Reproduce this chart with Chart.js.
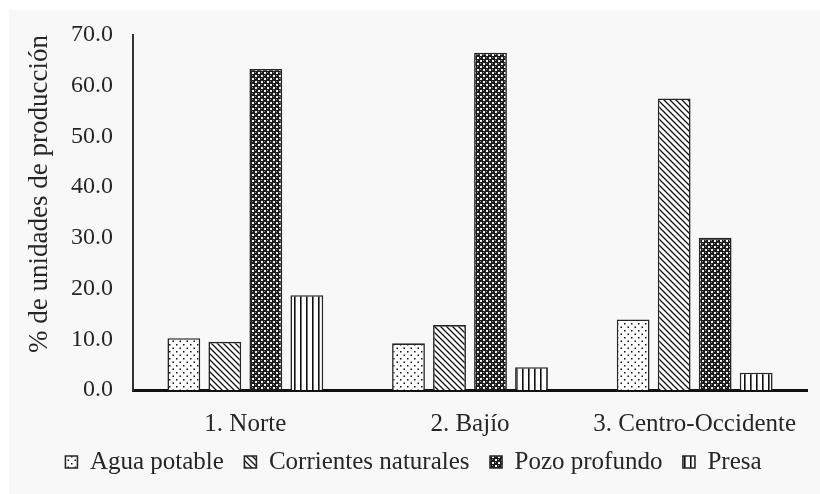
<!DOCTYPE html>
<html>
<head>
<meta charset="utf-8">
<script src="https://cdn.jsdelivr.net/npm/chart.js@4/dist/chart.umd.min.js"></script>
<style>
  html, body { margin: 0; padding: 0; background: #fff; }
  canvas { display: block; }
</style>
</head>
<body>
<canvas id="chart" width="820" height="494"></canvas>
<script>
// --- Data ---
const categories = ["1. Norte", "2. Bajío", "3. Centro-Occidente"];
const seriesNames = ["Agua potable", "Corrientes naturales", "Pozo profundo", "Presa"];
const aguaPotable = [10.2, 9.2, 13.9];
const corrientesNaturales = [9.5, 12.8, 57.5];
const pozoProfundo = [63.3, 66.5, 30.0];
const presa = [18.7, 4.5, 3.4];
const yMin = 0, yMax = 70, yStep = 10;
const yTitle = "% de unidades de producción";

const FONT = "'Liberation Serif', 'Times New Roman', serif";
const TEXT = "#262626";

// --- Fill patterns (Excel style) ---
const makePattern = (kind) => {
  const c = document.createElement("canvas");
  const g = c.getContext("2d");
  if (kind === "dots") {
    c.width = 7; c.height = 7;
    g.fillStyle = "#fff"; g.fillRect(0, 0, 7, 7);
    g.fillStyle = "#111";
    g.fillRect(1, 1, 1.5, 1.5);
    g.fillRect(4.5, 4.5, 1.5, 1.5);
  } else if (kind === "diag") {
    c.width = 6; c.height = 6;
    g.fillStyle = "#fff"; g.fillRect(0, 0, 6, 6);
    g.strokeStyle = "#111"; g.lineWidth = 1.3;
    g.beginPath();
    g.moveTo(-1, -1); g.lineTo(7, 7);
    g.moveTo(-1, 5); g.lineTo(1, 7);
    g.moveTo(5, -1); g.lineTo(7, 1);
    g.stroke();
  } else if (kind === "check") {
    c.width = 6; c.height = 6;
    g.fillStyle = "#1c1c1c"; g.fillRect(0, 0, 6, 6);
    g.fillStyle = "#f2f2f2";
    g.fillRect(0, 0, 2, 2);
    g.fillRect(3, 3, 2, 2);
    g.fillStyle = "#8a8a8a";
    g.fillRect(3, 0, 1, 1);
    g.fillRect(0, 3, 1, 1);
  } else {
    c.width = 6; c.height = 6;
    g.fillStyle = "#fff"; g.fillRect(0, 0, 6, 6);
    g.fillStyle = "#111";
    g.fillRect(0, 0, 1.6, 6);
  }
  return g.createPattern(c, "repeat");
};

const fills = [makePattern("dots"), makePattern("diag"), makePattern("check"), makePattern("vlines")];
const seriesValues = [aguaPotable, corrientesNaturales, pozoProfundo, presa];

const datasets = seriesNames.map((name, i) => ({
  label: name,
  data: seriesValues[i],
  backgroundColor: fills[i],
  borderColor: "#262626",
  borderWidth: 1.6,
  borderSkipped: "bottom",
  categoryPercentage: 0.73,
  barPercentage: 0.8
}));

// light grey panel behind the chart
const panelBg = {
  id: "panelBg",
  beforeDraw(chart) {
    const { ctx, width, height } = chart;
    ctx.save();
    ctx.fillStyle = "#f8f8f8";
    ctx.fillRect(9, 10, width - 9, height - 10);
    ctx.restore();
  }
};

new Chart(document.getElementById("chart"), {
  type: "bar",
  data: { labels: categories, datasets },
  plugins: [panelBg],
  options: {
    responsive: false,
    devicePixelRatio: 1,
    animation: false,
    layout: { padding: { left: 20, top: 35, right: 13, bottom: 9.5 } },
    plugins: {
      tooltip: { enabled: false },
      legend: {
        position: "bottom",
        labels: {
          font: { family: FONT, size: 25 },
          color: TEXT,
          boxWidth: 12,
          boxHeight: 12,
          padding: 8,
          // wider gap between items, as in the original legend
          generateLabels: (chart) => {
            const items = Chart.defaults.plugins.legend.labels.generateLabels(chart);
            items.forEach((it, i) => {
              if (i < items.length - 1) it.text = it.text + "\u2002";
            });
            return items;
          }
        }
      }
    },
    scales: {
      x: {
        grid: { display: false, drawTicks: false },
        border: { display: true, color: "#111", width: 3 },
        ticks: { font: { family: FONT, size: 25 }, color: TEXT, padding: 19 },
        afterFit: (scale) => { scale.height = 51.5; }
      },
      y: {
        min: yMin,
        max: yMax,
        grid: { display: false, drawTicks: false },
        border: { display: true, color: "#333", width: 2 },
        ticks: {
          stepSize: yStep,
          font: { family: FONT, size: 24 },
          color: TEXT,
          padding: 20,
          callback: (v) => Number(v).toFixed(1)
        },
        title: {
          display: true,
          text: yTitle,
          align: "end",
          font: { family: FONT, size: 27 },
          color: TEXT,
          padding: { top: 4, bottom: 2 }
        },
        afterFit: (scale) => { scale.width = 113; }
      }
    }
  }
});
</script>
</body>
</html>
